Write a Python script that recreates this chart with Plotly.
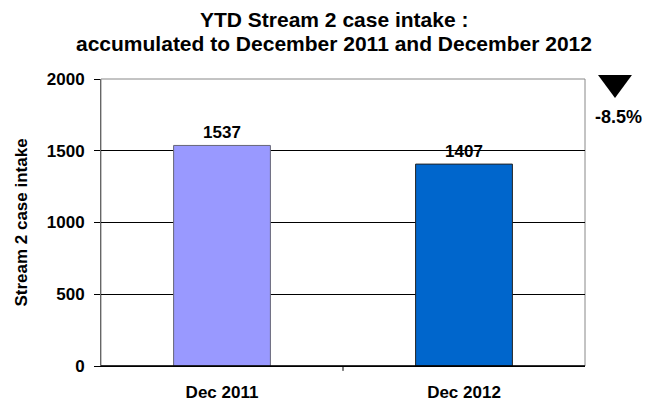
import plotly.graph_objects as go

categories = ["Dec 2011", "Dec 2012"]
values = [1537, 1407]
bar_colors = ["#9999FF", "#0066CC"]
y_ticks = [0, 500, 1000, 1500, 2000]
title_lines = ["YTD Stream 2 case intake :", "accumulated to December 2011 and December 2012"]

change = (values[1] - values[0]) / values[0] * 100

FONT = "Liberation Sans, Arial, sans-serif"

fig = go.Figure()
fig.add_trace(go.Bar(
    x=categories, y=values,
    marker=dict(color=bar_colors, line=dict(color=["#666677", "#222222"], width=1)),
    text=[str(v) for v in values], textposition="outside",
    textfont=dict(family=FONT, size=17, color="black", weight="bold"),
    cliponaxis=False, width=0.4,
))

fig.update_layout(
    width=661, height=405,
    margin=dict(l=101, r=76, t=79, b=39),
    paper_bgcolor="white", plot_bgcolor="white",
    showlegend=False,
    xaxis=dict(
        range=[-0.5, 1.5], showline=True, linecolor="black", linewidth=1,
        ticks="", tickfont=dict(family=FONT, size=17, color="black", weight="bold"),
        ticklabelstandoff=11, automargin=False,
        mirror=False, showgrid=False,
    ),
    yaxis=dict(
        range=[0, 2000], tickvals=y_ticks, showline=True, linecolor="#666666", linewidth=1,
        ticks="outside", ticklen=6, tickcolor="black", ticklabelstandoff=6,
        tickfont=dict(family=FONT, size=17, color="black", weight="bold"),
        showgrid=True, gridcolor="black", gridwidth=1, zeroline=False, automargin=False,
        title=dict(text="Stream 2 case intake", font=dict(family=FONT, size=17, color="black", weight="bold"), standoff=14),
    ),
)

# title lines
for txt, yy in zip(title_lines, [1.2056, 1.122]):
    fig.add_annotation(xref="paper", yref="paper", x=0.481, y=yy, xanchor="center", yanchor="middle",
                       text=txt, showarrow=False,
                       font=dict(family=FONT, size=21, color="black", weight="bold"))

# plot border (top/right gray)
fig.add_shape(type="rect", xref="paper", yref="paper", x0=0, x1=1, y0=0, y1=1,
              line=dict(color="#888888", width=1), layer="below")
# bottom axis line on top
fig.add_shape(type="line", xref="paper", yref="paper", x0=0, x1=1, y0=0, y1=0,
              line=dict(color="black", width=1.5))
# middle tick between categories
fig.add_shape(type="line", xref="x", yref="paper", x0=0.5, x1=0.5, y0=0, y1=-0.017,
              line=dict(color="black", width=1))

# down triangle indicator
fig.add_shape(type="path", xref="paper", yref="paper",
              path="M 1.0269 1.0139 L 1.097 1.0139 L 1.062 0.934 Z",
              fillcolor="black", line=dict(color="black", width=0))
fig.add_annotation(xref="paper", yref="paper", x=1.0702, y=0.866, xanchor="center", yanchor="middle",
                   text=f"{change:.1f}%", showarrow=False,
                   font=dict(family=FONT, size=18, color="black", weight="bold"))

fig.write_html("out.html", post_script="document.body.style.margin='0';",
               config={"displayModeBar": False})
